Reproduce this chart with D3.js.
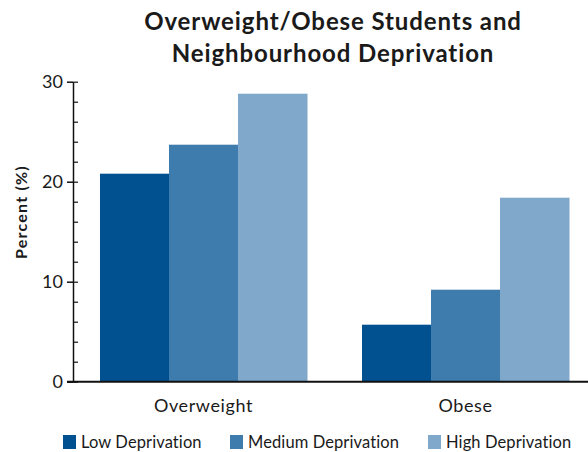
<!DOCTYPE html>
<html>
<head>
<meta charset="utf-8">
<script src="https://cdn.jsdelivr.net/npm/d3@7"></script>
<style>
  body { margin: 0; background: #fff; }
  svg { display: block; font-family: Lato, sans-serif; }
</style>
</head>
<body>
<svg id="chart" width="588" height="452"></svg>
<script>
// data
const groups = ['Overweight', 'Obese']
const series = ['Low Deprivation', 'Medium Deprivation', 'High Deprivation']
const lowValues = [20.8, 5.7]
const mediumValues = [23.7, 9.2]
const highValues = [28.8, 18.4]
const yTicks = [0, 10, 20, 30]
const colors = ['#01508f', '#3f7cae', '#80a8cb']

const seriesValues = [lowValues, mediumValues, highValues]
const rows = groups.map((g, i) => ({
    group: g,
    values: series.map((s, j) => ({ key: s, value: seriesValues[j][i] }))
}))

const svg = d3.select('#chart')

const y = d3.scaleLinear().domain([0, 30]).range([381.7, 81.7])
const x0 = d3.scaleBand().domain(groups).range([73, 596]).paddingInner(0.21).paddingOuter(0.103)
const x1 = d3.scaleBand().domain(series).range([0, x0.bandwidth()])
const color = d3.scaleOrdinal().domain(series).range(colors)

// title
svg.append('text')
    .attr('x', 333).attr('y', 30)
    .attr('text-anchor', 'middle')
    .attr('font-size', 24).attr('font-weight', 'bold').attr('fill', '#1a1a1a')
    .attr('letter-spacing', 0.9)
    .selectAll('tspan')
    .data(['Overweight/Obese Students and', 'Neighbourhood Deprivation'])
    .enter().append('tspan')
    .attr('x', 333)
    .attr('dy', (d, i) => i ? 32 : 0)
    .text(d => d)

// bars
svg.append('g').selectAll('g')
    .data(rows)
    .enter().append('g')
    .attr('transform', d => `translate(${x0(d.group)},0)`)
    .selectAll('rect')
    .data(d => d.values)
    .enter().append('rect')
    .attr('x', d => x1(d.key))
    .attr('width', x1.bandwidth() + 0.5)
    .attr('y', d => y(d.value))
    .attr('height', d => y(0) - y(d.value))
    .attr('fill', d => color(d.key))

// y axis, minor ticks on the inside
svg.append('g')
    .attr('transform', 'translate(73,0)')
    .call(d3.axisLeft(y).tickValues(d3.range(0, 31, 2)).tickSize(-5).tickFormat(''))
    .call(g => g.select('.domain').remove())
    .selectAll('line').attr('stroke', '#111').attr('stroke-width', 1.2)

svg.append('g')
    .attr('transform', 'translate(73,0)')
    .call(d3.axisLeft(y).tickValues(yTicks).tickSizeInner(6).tickSizeOuter(0).tickPadding(4))
    .call(g => g.select('.domain').attr('stroke', '#111').attr('stroke-width', 1.5))
    .call(g => g.selectAll('.tick line').attr('stroke', '#111').attr('stroke-width', 1.5))
    .call(g => g.selectAll('.tick text')
        .attr('font-family', 'Lato, sans-serif')
        .attr('font-size', 18).attr('fill', '#1a1a1a'))

// x axis
svg.append('line')
    .attr('x1', 67).attr('x2', 588)
    .attr('y1', y(0)).attr('y2', y(0))
    .attr('stroke', '#111').attr('stroke-width', 2)

svg.selectAll('text.xlabel')
    .data(groups)
    .enter().append('text')
    .attr('class', 'xlabel')
    .attr('x', d => x0(d) + x0.bandwidth() / 2)
    .attr('y', 412)
    .attr('text-anchor', 'middle')
    .attr('font-size', 18).attr('letter-spacing', 0.6).attr('fill', '#1a1a1a')
    .text(d => d)

// y label
svg.append('text')
    .attr('transform', 'translate(27,212) rotate(-90)')
    .attr('text-anchor', 'middle')
    .attr('font-size', 16).attr('font-weight', 'bold').attr('fill', '#1a1a1a')
    .attr('letter-spacing', 1.2)
    .text('Percent (%)')

// legend
const legendX = [63, 230, 428]
const legend = svg.selectAll('g.legend')
    .data(series)
    .enter().append('g')
    .attr('class', 'legend')
    .attr('transform', (d, i) => `translate(${legendX[i]},435)`)

legend.append('rect')
    .attr('width', 13).attr('height', 14)
    .attr('fill', d => color(d))

legend.append('text')
    .attr('x', 18).attr('y', 13)
    .attr('font-size', 16.5).attr('letter-spacing', 0.1).attr('fill', '#1a1a1a')
    .text(d => d)
</script>
</body>
</html>
